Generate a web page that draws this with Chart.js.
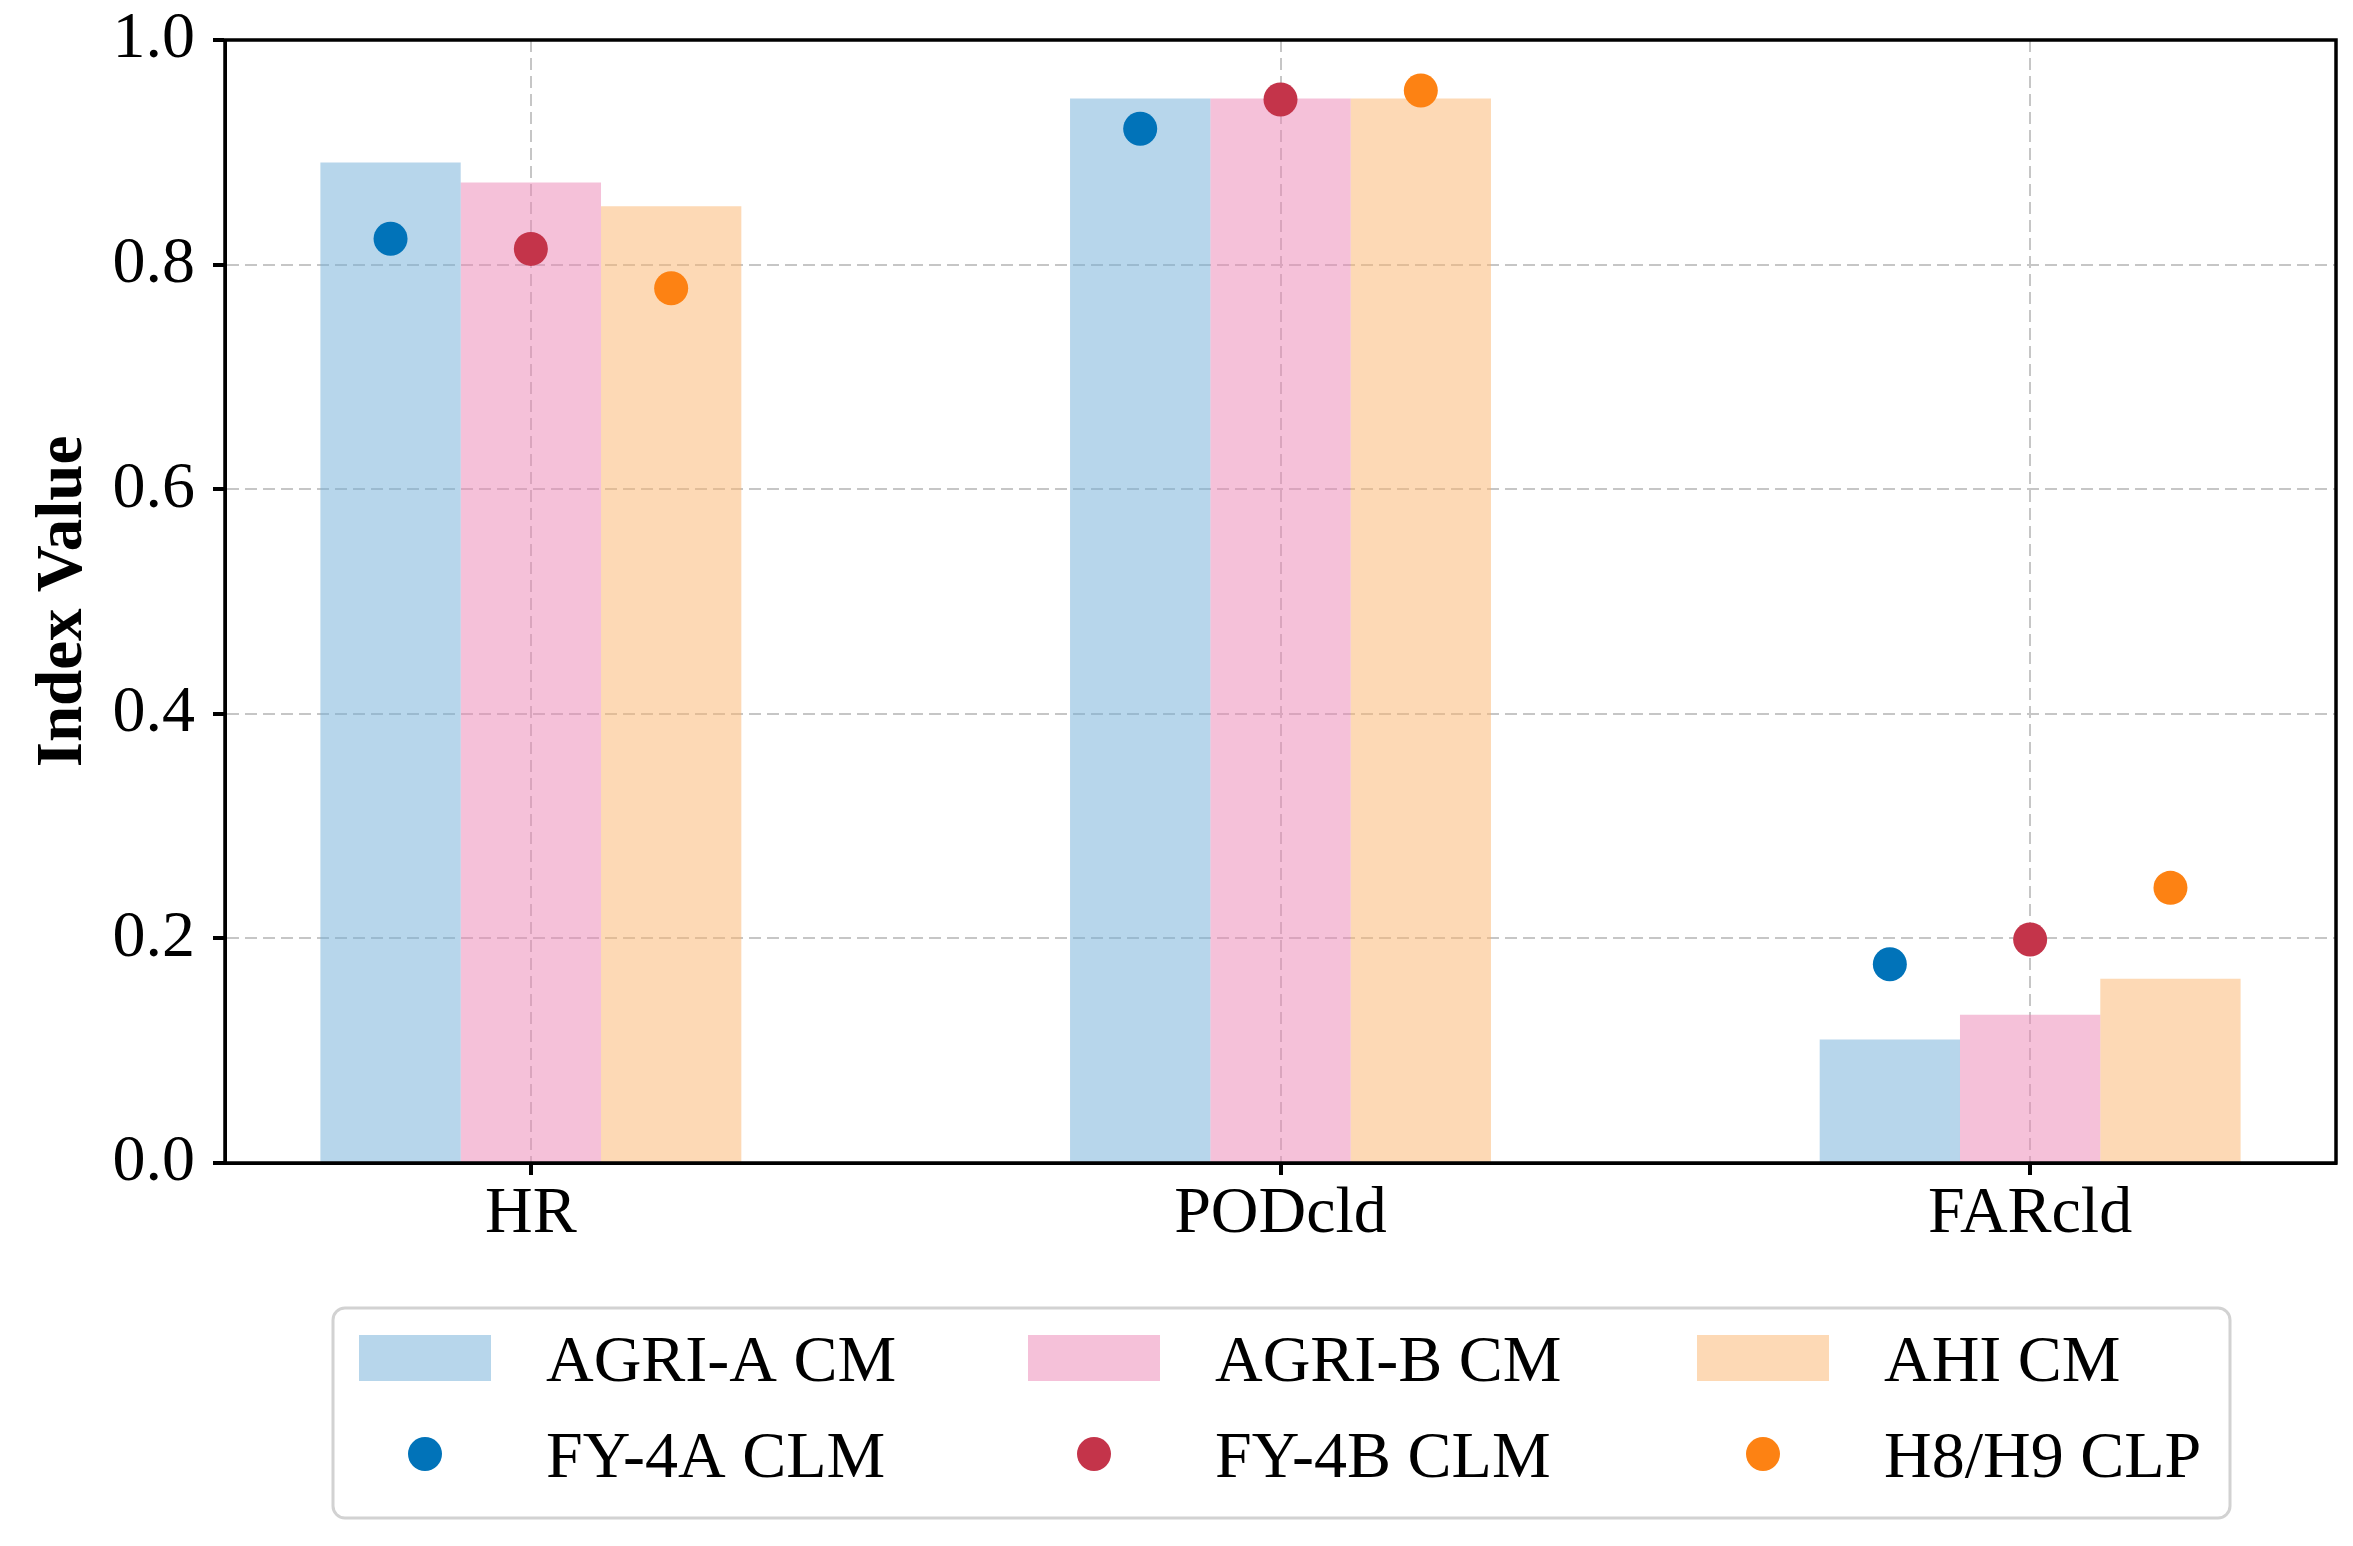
<!DOCTYPE html>
<html>
<head>
<meta charset="utf-8">
<script src="https://cdn.jsdelivr.net/npm/chart.js@4.4.0/dist/chart.umd.min.js"></script>
<style>
  html, body { margin: 0; padding: 0; background: #fff; }
  #wrap { width: 2353px; height: 1546px; }
</style>
</head>
<body>
<div id="wrap"><canvas id="indexChart"></canvas></div>
<script>
// data
var categories = ['HR', 'PODcld', 'FARcld'];
var barLabels = ['AGRI-A CM', 'AGRI-B CM', 'AHI CM'];
var dotLabels = ['FY-4A CLM', 'FY-4B CLM', 'H8/H9 CLP'];
var agriA = [0.891, 0.948, 0.110];
var agriB = [0.873, 0.948, 0.132];
var ahi   = [0.852, 0.948, 0.164];
var fy4a  = [0.823, 0.921, 0.177];
var fy4b  = [0.814, 0.947, 0.199];
var h8h9  = [0.779, 0.955, 0.245];
var yTicks = [0.0, 0.2, 0.4, 0.6, 0.8, 1.0];

var serif = "'Liberation Serif', 'Times New Roman', serif";
var groupPct = 0.5615;
var barW = groupPct / 3;

// bar fills are half transparent so the grid shows through like the original
var barFill = ['rgba(111,173,215,0.5)', 'rgba(235,131,179,0.5)', 'rgba(251,179,107,0.5)'];
var dotFill = ['#0173b9', '#c4344a', '#fd8213'];

function asPoints(vals, shift) {
    return vals.map(function (v, i) { return { x: i + shift, y: v }; });
}

var barSeries = [agriA, agriB, ahi];
var dotSeries = [fy4a, fy4b, h8h9];
var datasets = [];
barSeries.forEach(function (vals, k) {
    datasets.push({
        type: 'bar',
        label: barLabels[k],
        data: asPoints(vals, 0),
        backgroundColor: barFill[k],
        borderWidth: 0,
        categoryPercentage: groupPct,
        barPercentage: 1,
        order: 2
    });
});
dotSeries.forEach(function (vals, k) {
    datasets.push({
        type: 'scatter',
        label: dotLabels[k],
        data: asPoints(vals, (k - 1) * barW),
        backgroundColor: dotFill[k],
        borderWidth: 0,
        pointRadius: 17,
        order: 1
    });
});

// black box round the plot
var frame = {
    id: 'frame',
    afterDatasetsDraw: function (chart) {
        var a = chart.chartArea, c = chart.ctx;
        c.save();
        c.strokeStyle = '#000';
        c.lineWidth = 3.5;
        c.strokeRect(a.left, a.top, a.right - a.left, a.bottom - a.top);
        c.restore();
    }
};

// legend: bars on the first row, dots on the second
var gridLegend = {
    id: 'gridLegend',
    afterDraw: function (chart) {
        var c = chart.ctx;
        var bx = 333, by = 1308, bw = 1897, bh = 210;
        c.save();
        c.beginPath();
        c.roundRect(bx, by, bw, bh, 12);
        c.fillStyle = '#fff';
        c.fill();
        c.strokeStyle = '#d2d2d2';
        c.lineWidth = 3;
        c.stroke();
        c.font = '66px ' + serif;
        c.textBaseline = 'alphabetic';
        chart.data.datasets.forEach(function (ds, i) {
            var col = i % 3, row = Math.floor(i / 3);
            var px = bx + 26 + col * 669;
            var cy = 1358 + row * 96;
            c.fillStyle = ds.backgroundColor;
            if (ds.type === 'bar') {
                c.fillRect(px, cy - 23, 132, 46);
            } else {
                c.beginPath();
                c.arc(px + 66, cy, 17, 0, Math.PI * 2);
                c.fill();
            }
            c.fillStyle = '#000';
            c.fillText(ds.label, px + 187, cy + 23);
        });
        c.restore();
    }
};

var ctx = document.getElementById('indexChart').getContext('2d');
var chart = new Chart(ctx, {
    data: { datasets: datasets },
    plugins: [frame, gridLegend],
    options: {
        responsive: true,
        maintainAspectRatio: false,
        animation: false,
        events: [],
        layout: { padding: { left: 0, right: 15, top: 40, bottom: 273 } },
        plugins: {
            legend: { display: false },
            tooltip: { enabled: false }
        },
        scales: {
            x: {
                type: 'linear',
                min: -0.408,
                max: 2.408,
                offset: false,
                afterBuildTicks: function (s) {
                    s.ticks = categories.map(function (c, i) { return { value: i }; });
                },
                afterFit: function (s) { s.height = 110; },
                ticks: {
                    callback: function (v) { return categories[v]; },
                    font: { family: serif, size: 66 },
                    color: '#000',
                    padding: 0,
                    maxRotation: 0,
                    autoSkip: false
                },
                grid: { offset: false, color: '#c6c6c6', lineWidth: 2, tickColor: '#000', tickWidth: 4, tickLength: 12 },
                border: { color: '#000', width: 3, dash: [12, 6] }
            },
            y: {
                min: 0,
                max: 1,
                afterBuildTicks: function (s) {
                    s.ticks = yTicks.map(function (v) { return { value: v }; });
                },
                afterFit: function (s) {
                    s.width = 225;
                    s.paddingTop = 0;
                    s.paddingBottom = 0;
                },
                ticks: {
                    callback: function (v) { return v.toFixed(1); },
                    font: { family: serif, size: 66 },
                    color: '#000',
                    padding: 18
                },
                title: {
                    display: true,
                    text: 'Index Value',
                    color: '#000',
                    font: { family: serif, size: 65, weight: 'bold' },
                    padding: { top: 25, bottom: 0 }
                },
                grid: { color: '#c6c6c6', lineWidth: 2, tickColor: '#000', tickWidth: 4, tickLength: 12 },
                border: { color: '#000', width: 3, dash: [12, 6] }
            }
        }
    }
});
</script>
</body>
</html>
